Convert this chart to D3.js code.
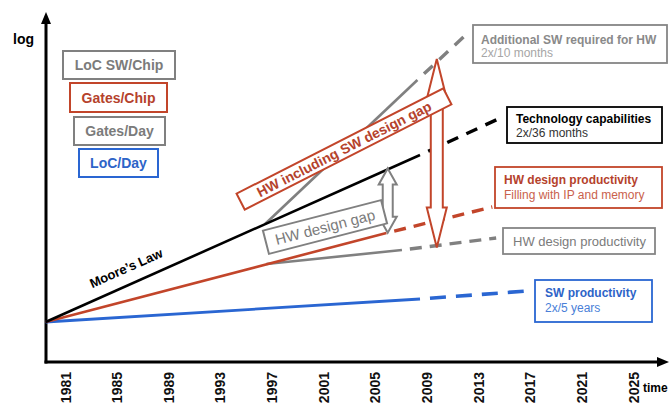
<!DOCTYPE html>
<html><head><meta charset="utf-8">
<script src="https://cdn.jsdelivr.net/npm/d3@7"></script>
<style>
html,body{margin:0;padding:0;background:#fff;}
svg{display:block;font-family:Arial,"Liberation Sans",sans-serif;}
</style></head><body>
<svg id="c" width="669" height="405"></svg>
<script>
// ---------- data ----------
const tickYears = [1981, 1985, 1989, 1993, 1997, 2001, 2005, 2009, 2013, 2017, 2021, 2025];
const legendLabels = ["LoC SW/Chip", "Gates/Chip", "Gates/Day", "LoC/Day"];

// each series: solid from point 0 to point 1, dashed from point 1 to point 2 (log scale units)
const techYears = [1979.5, 2008.5, 2014.9];
const techValues = [0, 16.7, 20.5];
const gatesChipYears = [1979.5, 2005.9, 2014.1];
const gatesChipValues = [0, 8.9, 11.5];
const gatesDayYears = [1996.6, 2007.1, 2014.4];
const gatesDayValues = [5.8, 7.2, 8.4];
const swChipYears = [1996.5, 2008.3, 2012.2];
const swChipValues = [9.8, 24.2, 28.9];
const locDayYears = [1979.5, 2008.5, 2016.8];
const locDayValues = [0, 2.3, 3.1];

// gap arrows (year at which gap is shown)
const hwGapYear = 2006.0;
const swGapYear = 2009.8;

// ---------- drawing ----------
const W = 669, H = 405;
const svg = d3.select("#c");
const x = d3.scaleLinear().domain([1981, 2025]).range([65, 633]);
const y = d3.scaleLinear().domain([0, 30]).range([322, 22]);

const C = {
  black: "#000000",
  red: "#c2452a",
  redText: "#b5422c",
  gray: "#808080",
  grayText: "#7b7b7b",
  blue: "#2a66d2",
  blueText: "#2d64c8"
};

// axes lines with arrow heads
const origin = [46, 362];
svg.append("line").attr("x1", origin[0]).attr("y1", origin[1] + 1.5).attr("x2", origin[0]).attr("y2", 20)
  .attr("stroke", "#000").attr("stroke-width", 3);
svg.append("path").attr("d", `M${origin[0]},12 L${origin[0] + 5},24 L${origin[0] - 5},24 Z`).attr("fill", "#000");
svg.append("line").attr("x1", origin[0] - 1.5).attr("y1", origin[1]).attr("x2", 660).attr("y2", origin[1])
  .attr("stroke", "#000").attr("stroke-width", 3);
svg.append("path").attr("d", `M669,${origin[1]} L657,${origin[1] - 5} L657,${origin[1] + 5} Z`).attr("fill", "#000");

// tick labels via axis
const ax = svg.append("g").attr("transform", "translate(0,372)")
  .call(d3.axisBottom(x).tickValues(tickYears).tickFormat(d3.format("d")).tickSize(0).tickPadding(0));
ax.select(".domain").remove();
ax.attr("font-size", 14).attr("font-weight", "bold").attr("font-family", "Arial, 'Liberation Sans', sans-serif");
ax.selectAll("text").attr("x", 0).attr("y", 0).attr("dy", "0.36em")
  .attr("transform", "rotate(-90)").attr("text-anchor", "end").attr("fill", "#111");

svg.append("text").attr("x", 13).attr("y", 44).attr("font-size", 14).attr("font-weight", "bold").text("log");
svg.append("text").attr("x", 643).attr("y", 392).attr("font-size", 12).attr("font-weight", "bold").text("time");

// series
const line = d3.line().x(d => x(d[0])).y(d => y(d[1]));
function drawSeries(years, values, color, sw, dash) {
  const pts = years.map((yr, i) => [yr, values[i]]);
  svg.append("path").attr("d", line(pts.slice(0, 2))).attr("fill", "none")
    .attr("stroke", color).attr("stroke-width", sw).attr("stroke-linecap", "butt");
  svg.append("path").attr("d", line(pts.slice(1))).attr("fill", "none")
    .attr("stroke", color).attr("stroke-width", sw + 0.8)
    .attr("stroke-dasharray", dash.join(",")).attr("stroke-dashoffset", dash[0]);
}
drawSeries(swChipYears, swChipValues, C.gray, 2.6, [12, 9]);
drawSeries(gatesDayYears, gatesDayValues, C.gray, 2.6, [12, 8]);
drawSeries(locDayYears, locDayValues, C.blue, 2.8, [16, 10]);
drawSeries(gatesChipYears, gatesChipValues, C.red, 2.6, [12, 8]);
drawSeries(techYears, techValues, C.black, 2.6, [12, 9]);

// interpolation helper
const valueAt = (years, values, yr) => d3.scaleLinear().domain(years).range(values)(yr);

// hollow double arrow
function dblArrow(xc, y1, y2, hw, hl, sw, color) {
  const p = [[xc, y1], [xc + hw, y1 + hl], [xc + sw, y1 + hl], [xc + sw, y2 - hl], [xc + hw, y2 - hl], [xc, y2],
             [xc - hw, y2 - hl], [xc - sw, y2 - hl], [xc - sw, y1 + hl], [xc - hw, y1 + hl]];
  svg.append("path").attr("d", "M" + p.map(q => q.join(",")).join("L") + "Z")
    .attr("fill", "#fff").attr("stroke", color).attr("stroke-width", 2).attr("stroke-linejoin", "miter");
}

// red arrow: SW gap between Gates/Day and LoC SW/Chip
dblArrow(x(swGapYear), y(valueAt(swChipYears, swChipValues, swGapYear)) - 3,
  y(valueAt(gatesDayYears, gatesDayValues, swGapYear)) + 2, 10, 40, 6, C.red);
// gray arrow: HW design gap between Tech and Gates/Chip
dblArrow(x(hwGapYear), y(valueAt(techYears, techValues, hwGapYear)) - 1,
  y(valueAt(gatesChipYears, gatesChipValues, hwGapYear)), 9, 16, 5, C.gray);

// rotated boxes
function rotBox(cx, cy, ang, w, h, txt, color, tcolor, fs, fw) {
  const g = svg.append("g").attr("transform", `translate(${cx},${cy}) rotate(${ang})`);
  g.append("rect").attr("x", -w / 2).attr("y", -h / 2).attr("width", w).attr("height", h)
    .attr("fill", "#fff").attr("stroke", color).attr("stroke-width", 2);
  g.append("text").attr("text-anchor", "middle").attr("dy", "0.36em")
    .attr("font-size", fs).attr("font-weight", fw).attr("fill", tcolor).text(txt);
}
rotBox(344, 149, -27, 232, 18, "HW including SW design gap", C.red, C.redText, 14, "bold");
rotBox(325, 227, -14.5, 122, 24, "HW design gap", C.gray, C.grayText, 15, "normal");

svg.append("text").attr("transform", "translate(126,268) rotate(-24)").attr("text-anchor", "middle")
  .attr("dy", "0.36em").attr("font-size", 13).attr("font-weight", "bold").attr("fill", "#000").text("Moore\u2019s Law");

// legend boxes (left)
const legendColors = [[C.gray, C.grayText], [C.red, C.redText], [C.gray, C.grayText], [C.blue, C.blueText]];
const legendRects = [[63, 51, 112, 28], [70, 83, 97, 29], [74, 117, 91, 28], [79, 149, 79, 28]];
legendLabels.forEach((lab, i) => {
  const [rx, ry, rw, rh] = legendRects[i];
  svg.append("rect").attr("x", rx).attr("y", ry).attr("width", rw).attr("height", rh)
    .attr("fill", "#fff").attr("stroke", legendColors[i][0]).attr("stroke-width", 2);
  svg.append("text").attr("x", rx + rw / 2).attr("y", ry + rh / 2).attr("dy", "0.36em").attr("text-anchor", "middle")
    .attr("font-size", 14).attr("font-weight", "bold").attr("fill", legendColors[i][1]).text(lab);
});

// right-hand label boxes
function labelBox(rx, ry, rw, rh, border, lines) {
  svg.append("rect").attr("x", rx).attr("y", ry).attr("width", rw).attr("height", rh)
    .attr("fill", "#fff").attr("stroke", border).attr("stroke-width", 1.8);
  lines.forEach(l => {
    svg.append("text").attr("x", rx + l.dx).attr("y", ry + l.dy).attr("font-size", l.fs)
      .attr("font-weight", l.fw).attr("fill", l.c).text(l.t);
  });
}
labelBox(473, 25, 194, 38, "#858585", [
  { t: "Additional SW required for HW", dx: 8, dy: 19, fs: 12, fw: "bold", c: "#8a8a8a" },
  { t: "2x/10 months", dx: 8, dy: 32, fs: 12, fw: "normal", c: "#a6a6a6" }]);
labelBox(507, 107, 155, 36, "#000", [
  { t: "Technology capabilities", dx: 9, dy: 16, fs: 12, fw: "bold", c: "#000" },
  { t: "2x/36 months", dx: 9, dy: 30, fs: 12, fw: "normal", c: "#333" }]);
labelBox(495, 167, 167, 41, C.red, [
  { t: "HW design productivity", dx: 9, dy: 17, fs: 12, fw: "bold", c: C.redText },
  { t: "Filling with IP and memory", dx: 9, dy: 32, fs: 12, fw: "normal", c: "#c9614c" }]);
labelBox(503, 228, 152, 26, "#858585", [
  { t: "HW design productivity", dx: 10, dy: 17.5, fs: 13, fw: "normal", c: "#7b7b7b" }]);
labelBox(535, 280, 117, 42, C.blue, [
  { t: "SW productivity", dx: 10, dy: 17, fs: 12, fw: "bold", c: C.blueText },
  { t: "2x/5 years", dx: 10, dy: 32, fs: 12, fw: "normal", c: "#4a7fd8" }]);
</script>
</body></html>
